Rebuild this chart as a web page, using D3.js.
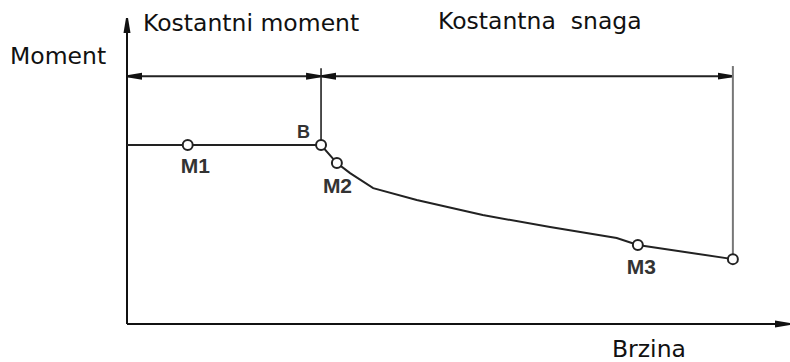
<!doctype html>
<html>
<head>
    <meta charset="utf-8" />
    <title></title>
    <style>
        body { margin: 0; background: #fff; }
        svg text.big { font-family: "DejaVu Sans", sans-serif; font-size: 23.5px; fill: #111; }
        svg text.pt { font-family: "Liberation Sans", Arial, sans-serif; font-weight: bold; font-size: 21px; fill: #333; }
    </style>
</head>
<body>
    <script src="https://cdn.jsdelivr.net/npm/d3@7"></script>
    <script>
        // curve: speed (x) vs moment (y), arbitrary units 0..100
        var curveX = [0, 9.2, 29.4, 31.8, 33.8, 37.3, 43.9, 53.9, 64.1, 74.2, 77.4, 91.8];
        var curveY = [58.5, 58.5, 58.5, 52.6, 49.3, 44.4, 40.5, 35.6, 31.7, 28.1, 25.8, 21.2];

        // marked points
        var markNames = ["M1", "B", "M2", "M3", ""];
        var markX = [9.2, 29.4, 31.8, 77.4, 91.8];
        var markY = [58.5, 58.5, 52.6, 25.8, 21.2];

        // region labels
        var regionNames = ["Kostantni moment", "Kostantna  snaga"];
        var regionBounds = [0, 29.4, 91.8];
        var dimLevel = 81;

        var w = 790, h = 362;

        var x = d3.scaleLinear().domain([0, 100]).range([127, 787]);
        var y = d3.scaleLinear().domain([0, 100]).range([324, 18]);

        var svg = d3.select("body").append("svg").attr("width", w).attr("height", h);

        var defs = svg.append("defs");
        defs.append("marker").attr("id", "arr").attr("viewBox", "0 0 15 8")
            .attr("refX", 15).attr("refY", 4).attr("markerWidth", 15).attr("markerHeight", 8)
            .attr("markerUnits", "userSpaceOnUse").attr("orient", "auto-start-reverse")
            .append("path").attr("d", "M0,0.5 L15,3 L15,5 L0,7.5 Z").attr("fill", "#111");

        // axes
        svg.append("line").attr("x1", x(0)).attr("x2", x(0)).attr("y1", y(0)).attr("y2", y(100))
            .attr("stroke", "#111").attr("stroke-width", 2).attr("marker-end", "url(#arr)");
        svg.append("line").attr("x1", x(0)).attr("x2", w).attr("y1", y(0)).attr("y2", y(0))
            .attr("stroke", "#111").attr("stroke-width", 2).attr("marker-end", "url(#arr)");

        // dimension lines between regions
        for (var i = 0; i < regionNames.length; i++) {
            svg.append("line")
                .attr("x1", x(regionBounds[i])).attr("x2", x(regionBounds[i + 1]))
                .attr("y1", y(dimLevel)).attr("y2", y(dimLevel))
                .attr("stroke", "#222").attr("stroke-width", 2)
                .attr("marker-start", "url(#arr)").attr("marker-end", "url(#arr)");
        }

        // vertical boundary lines
        svg.append("line").attr("x1", x(regionBounds[1])).attr("x2", x(regionBounds[1]))
            .attr("y1", y(dimLevel + 2.6)).attr("y2", y(markY[1]))
            .attr("stroke", "#222").attr("stroke-width", 1.6);
        svg.append("line").attr("x1", x(regionBounds[2])).attr("x2", x(regionBounds[2]))
            .attr("y1", y(dimLevel + 3.3)).attr("y2", y(markY[4]))
            .attr("stroke", "#777").attr("stroke-width", 2);

        // curve
        var pts = curveX.map(function(d, i) { return [d, curveY[i]]; });
        var line = d3.line().x(function(d) { return x(d[0]); }).y(function(d) { return y(d[1]); });
        svg.append("path").datum(pts).attr("d", line)
            .attr("fill", "none").attr("stroke", "#222").attr("stroke-width", 2);

        // markers
        svg.selectAll("circle.m").data(markX).enter().append("circle")
            .attr("cx", function(d) { return x(d); })
            .attr("cy", function(d, i) { return y(markY[i]); })
            .attr("r", 5).attr("fill", "#fff").attr("stroke", "#222").attr("stroke-width", 2);

        // marker labels
        var labOff = [[-7, 28], [-24, -7], [-14, 30], [-11, 29], [0, 0]];
        svg.selectAll("text.pt").data(markNames).enter().append("text").attr("class", "pt")
            .attr("x", function(d, i) { return x(markX[i]) + labOff[i][0]; })
            .attr("y", function(d, i) { return y(markY[i]) + labOff[i][1]; })
            .style("font-size", function(d) { return d === "B" ? "18px" : null; })
            .text(function(d) { return d; });

        // region titles
        svg.append("text").attr("class", "big").attr("x", 143).attr("y", 31).text(regionNames[0]);
        svg.append("text").attr("class", "big").attr("x", 438).attr("y", 29)
            .attr("xml:space", "preserve").style("white-space", "pre").text(regionNames[1]);

        // axis titles
        svg.append("text").attr("class", "big").attr("x", 10).attr("y", 64).text("Moment");
        svg.append("text").attr("class", "big").attr("x", 612).attr("y", 357).text("Brzina");
    </script>
</body>
</html>
